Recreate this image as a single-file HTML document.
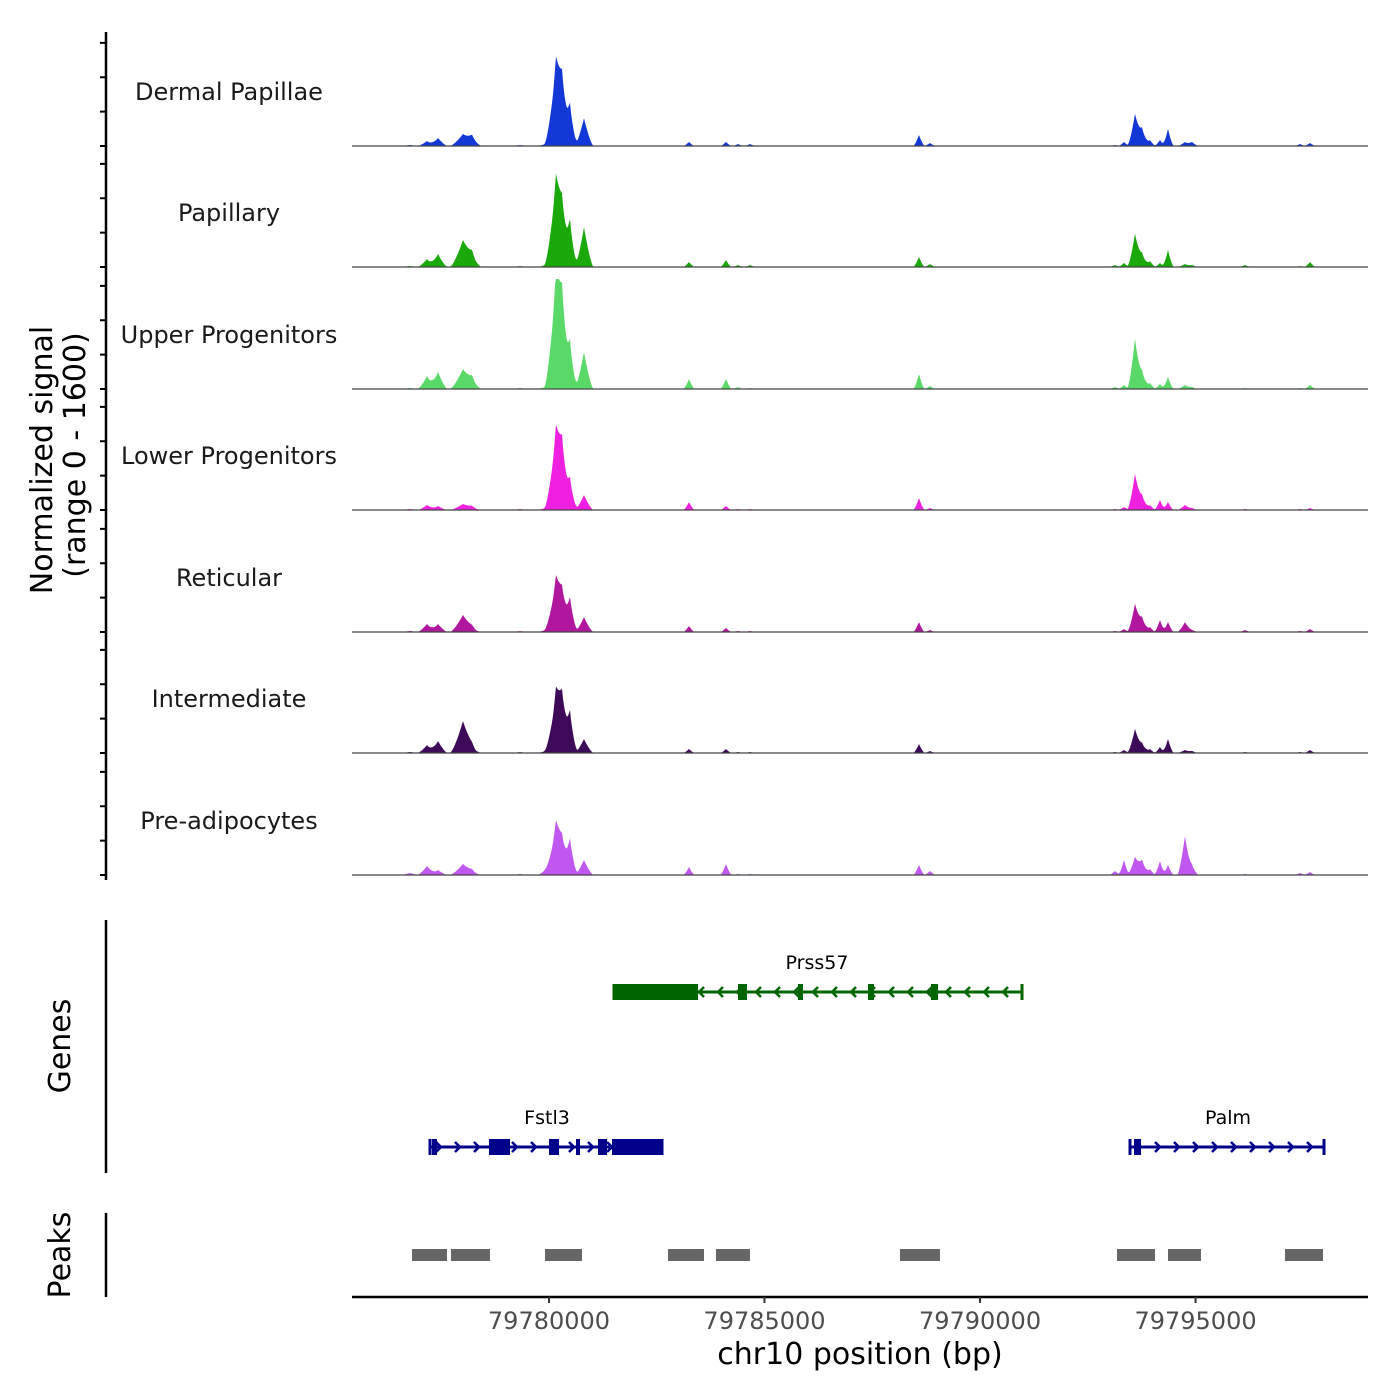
<!DOCTYPE html>
<html><head><meta charset="utf-8"><style>
html,body{margin:0;padding:0;background:#fff;}
svg{display:block;font-family:"DejaVu Sans","Liberation Sans",sans-serif;}
</style></head><body>
<svg id="chart" width="1400" height="1400" viewBox="0 0 1400 1400" xmlns="http://www.w3.org/2000/svg"></svg>
<script>
const trackNames = ["Dermal Papillae","Papillary","Upper Progenitors","Lower Progenitors","Reticular","Intermediate","Pre-adipocytes"];
const trackColors = ["#1438d8","#1aa80a","#5ad868","#f020e0","#b0169e","#3d0a5a","#c057f0"];
const peakCenters = [79776775,79777170,79777425,79778005,79778214,79779327,79779907,79780162,79780302,79780487,79780812,79783248,79784106,79784385,79784663,79788584,79788839,79790463,79793131,79793340,79793595,79793758,79793943,79794175,79794361,79794755,79794918,79796148,79797423,79797655];
const peakWidths = [116,116,116,160,116,90,90,140,116,93,116,70,70,70,70,70,70,70,70,70,93,93,70,70,70,93,80,70,70,70];
const sigDP  = [15,73,116,174,131,15,29,1131,725,580,406,58,58,29,29,160,44,0,15,58,464,261,87,87,247,58,58,0,29,44];
const sigPap = [15,116,189,392,174,15,29,1204,653,653,580,73,102,29,29,145,44,0,29,58,479,203,87,58,247,44,29,29,15,73];
const sigUP  = [15,189,247,290,145,15,29,1537,1015,653,537,145,145,29,15,218,44,0,29,58,725,261,87,73,174,58,29,15,15,58];
const sigLP  = [15,73,58,87,44,15,29,1073,725,435,218,116,58,15,15,174,29,0,15,44,522,218,73,145,116,73,29,15,15,29];
const sigRet = [15,116,116,247,58,15,29,725,435,479,218,87,58,15,15,145,29,0,15,44,406,218,73,174,145,145,29,29,15,44];
const sigInt = [15,116,174,464,73,15,29,812,653,580,203,58,58,15,15,131,29,0,15,44,348,145,58,87,203,44,29,15,15,44];
const sigPre = [29,131,73,160,58,15,73,711,363,508,218,116,160,15,15,145,58,0,58,218,261,218,87,203,145,566,145,15,29,44];
const trackSignals = [sigDP,sigPap,sigUP,sigLP,sigRet,sigInt,sigPre];
const xTicks = [79780000,79785000,79790000,79795000];
const peakStarts = [79776822,79777726,79779907,79782761,79783874,79788143,79793178,79794361,79797075];
const peakEnds   = [79777634,79778631,79780766,79783596,79784663,79789071,79794059,79795126,79797957];

const svg = document.getElementById('chart');
const NS = "http://www.w3.org/2000/svg";
const X0=352, X1=1368, BP0=79775430, BP1=79799001;
const xs = bp => X0 + (bp-BP0)/(BP1-BP0)*(X1-X0);
const bps = px => BP0 + (px-X0)/(X1-X0)*(BP1-BP0);
const MAXV=1600, TH=110;
const baselines=[146,267,389,510,632,753,875];
const ys = (v,b) => b - v/MAXV*TH;
function mk(tag, attrs, parent){const e=document.createElementNS(NS,tag);for(const k in attrs)e.setAttribute(k,attrs[k]);(parent||svg).appendChild(e);return e;}

const ax = mk('line',{x1:106,y1:32,x2:106,y2:880,stroke:'#000','stroke-width':2.5});


baselines.forEach((b,ti)=>{
  [0,500,1000,1500].forEach(v=>{
    const t=mk('line',{x1:100,x2:106,y1:ys(v,b),y2:ys(v,b),stroke:'#000','stroke-width':2});
    
    
  });
});
const yt = mk('text',{x:0,y:0,'font-size':30,'text-anchor':'middle',transform:'translate(52,460) rotate(-90)',fill:'#000'});


yt.textContent='Normalized signal';
const yt2 = mk('text',{x:0,y:0,'font-size':30,'text-anchor':'middle',transform:'translate(85,455) rotate(-90)',fill:'#000'});


yt2.textContent='(range 0 - 1600)';

trackNames.forEach((name,ti)=>{
  const b=baselines[ti], sig=trackSignals[ti];
  const g=mk('g',{});
  
  
  let d='M'+X0+','+b;
  for(let px=X0;px<=X1;px+=1){
    const bp=bps(px); let v=0;
    for(let i=0;i<peakCenters.length;i++){
      const r=Math.abs(bp-peakCenters[i])/(peakWidths[i]*1.9);
      if(r<1) v+=sig[i]*Math.pow(1-r,1.4);
    }
    v=Math.min(v,MAXV);
    d+=' L'+px+','+ys(v,b).toFixed(1);
  }
  d+=' L'+X1+','+b+' Z';
  const p=mk('path',{d:d,fill:trackColors[ti]},g);
  
  
  const bl=mk('line',{x1:X0,x2:X1,y1:b,y2:b,stroke:'#444','stroke-width':1.2},g);
  
  
  const lbl=mk('text',{x:229,y:b-46,'font-size':24,'text-anchor':'middle',fill:'#1a1a1a'},g);
  
  
  lbl.textContent=name;
});

const ga=mk('line',{x1:106,y1:920,x2:106,y2:1173,stroke:'#000','stroke-width':2.5});


const gt=mk('text',{x:0,y:0,'font-size':30,'text-anchor':'middle',transform:'translate(70,1046) rotate(-90)'});


gt.textContent='Genes';

function drawGene(name,color,y,x0,x1,exons,dir,lx){
  const g=mk('g',{});
  
  
  mk('line',{x1:x0,x2:x1,y1:y,y2:y,stroke:color,'stroke-width':3},g);
  for(let px=x0+10;px<x1-4;px+=19){
    const s=dir>0?-1:1;
    mk('polyline',{points:`${px+s*4},${y-5} ${px-s*1},${y} ${px+s*4},${y+5}`,fill:'none',stroke:color,'stroke-width':2.5},g);
  }
  exons.forEach(e=>mk('rect',{x:e[0],y:y-8,width:e[1]-e[0],height:16,fill:color},g));
  mk('line',{x1:x1,x2:x1,y1:y-8,y2:y+8,stroke:color,'stroke-width':3},g);
  mk('line',{x1:x0,x2:x0,y1:y-8,y2:y+8,stroke:color,'stroke-width':3},g);
  const t=mk('text',{x:lx,y:y-23,'font-size':19,'text-anchor':'middle',fill:'#000'},g);
  t.textContent=name;
}
drawGene('Prss57','#006400',992,614,1022,[[614,698],[738,747],[798,803],[868,874],[931,938]],-1,817);
drawGene('Fstl3','#00008B',1147,430,662,[[432,437],[489,510],[549,559],[576,580],[598,607],[612,662]],1,547);
drawGene('Palm','#00008B',1147,1130,1324,[[1134,1141]],1,1228);

const pa=mk('line',{x1:106,y1:1213,x2:106,y2:1297,stroke:'#000','stroke-width':2.5});


const pt=mk('text',{x:0,y:0,'font-size':30,'text-anchor':'middle',transform:'translate(70,1255) rotate(-90)'});


pt.textContent='Peaks';
peakStarts.forEach((s,i)=>{
  const r=mk('rect',{x:xs(s),y:1249,width:xs(peakEnds[i])-xs(s),height:12,fill:'#666'});
  
  
});

const xa=mk('line',{x1:352,x2:1368,y1:1297,y2:1297,stroke:'#000','stroke-width':2.5});


xTicks.forEach(v=>{
  const t=mk('line',{x1:xs(v),x2:xs(v),y1:1297,y2:1303,stroke:'#333','stroke-width':2});
  
  
  const l=mk('text',{x:xs(v),y:1329,'font-size':24,'text-anchor':'middle',fill:'#4d4d4d'});
  
  
  l.textContent=String(v);
});
const xt=mk('text',{x:860,y:1364,'font-size':30,'text-anchor':'middle',fill:'#000'});


xt.textContent='chr10 position (bp)';
</script>
</body></html>
